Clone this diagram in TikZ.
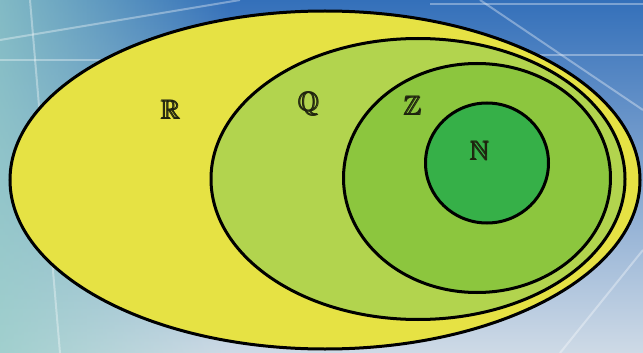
\documentclass[tikz,border=0pt]{standalone}
\usepackage{amsmath,amssymb}
\usetikzlibrary{positioning, shapes.geometric, fadings}

\definecolor{bgtop}{RGB}{52,112,186}
\definecolor{bgmid}{RGB}{120,168,214}
\definecolor{bgbot}{RGB}{206,218,230}
\definecolor{bgleft}{RGB}{150,205,200}
\definecolor{realcol}{RGB}{230,226,68}
\definecolor{ratcol}{RGB}{178,212,78}
\definecolor{intcol}{RGB}{140,198,62}
\definecolor{natcol}{RGB}{54,176,72}
\definecolor{labelcol}{RGB}{30,34,14}

\begin{document}
\begin{tikzpicture}
    [
        x=1pt, y=-1pt,
        set/.style={draw=black, ellipse, line width=3pt, inner sep=0pt},
        setlabel/.style={text=labelcol, font=\fontsize{27}{30}\selectfont},
        glow/.style={white, opacity=0.35, line width=2pt}
    ]
        % =========================================================================
        % BACKGROUND
        % =========================================================================
        \useasboundingbox (0,0) rectangle (643,353);
        \shade [top color=bgtop, middle color=bgmid, bottom color=bgbot] (0,0) rectangle (643,353);
        \fill [bgleft, path fading=east, opacity=0.8] (0,0) rectangle (230,353);
        \draw [glow] (0,40) -- (240,0);
        \draw [glow] (30,0) -- (60,353);
        \draw [glow] (0,60) -- (160,60);
        \draw [glow] (430,4) -- (643,4);
        \draw [glow] (480,0) -- (643,110);
        \draw [glow] (540,55) -- (643,55);
        \draw [glow] (560,353) -- (643,250);

        % =========================================================================
        % SETS
        % =========================================================================
        \node [set, fill=realcol, minimum width=630, minimum height=338] (setR) at (325,180) {};
        \node [set, fill=ratcol, minimum width=414, minimum height=281] (setQ) at (418,179) {};
        \node [set, fill=intcol, minimum width=267, minimum height=229] (setZ) at (477,178) {};
        \node [set, fill=natcol, minimum width=123, minimum height=120] (setN) at (487,163) {};

        % =========================================================================
        % LABELS
        % =========================================================================
        \node [setlabel] (labR) at (171,110) {$\pmb{\mathbb{R}}$};
        \node [setlabel] (labQ) at (309,104) {$\pmb{\mathbb{Q}}$};
        \node [setlabel] (labZ) at (413,106) {$\pmb{\mathbb{Z}}$};
        \node [setlabel] (labN) at (480,151) {$\pmb{\mathbb{N}}$};

    \end{tikzpicture}
\end{document}
